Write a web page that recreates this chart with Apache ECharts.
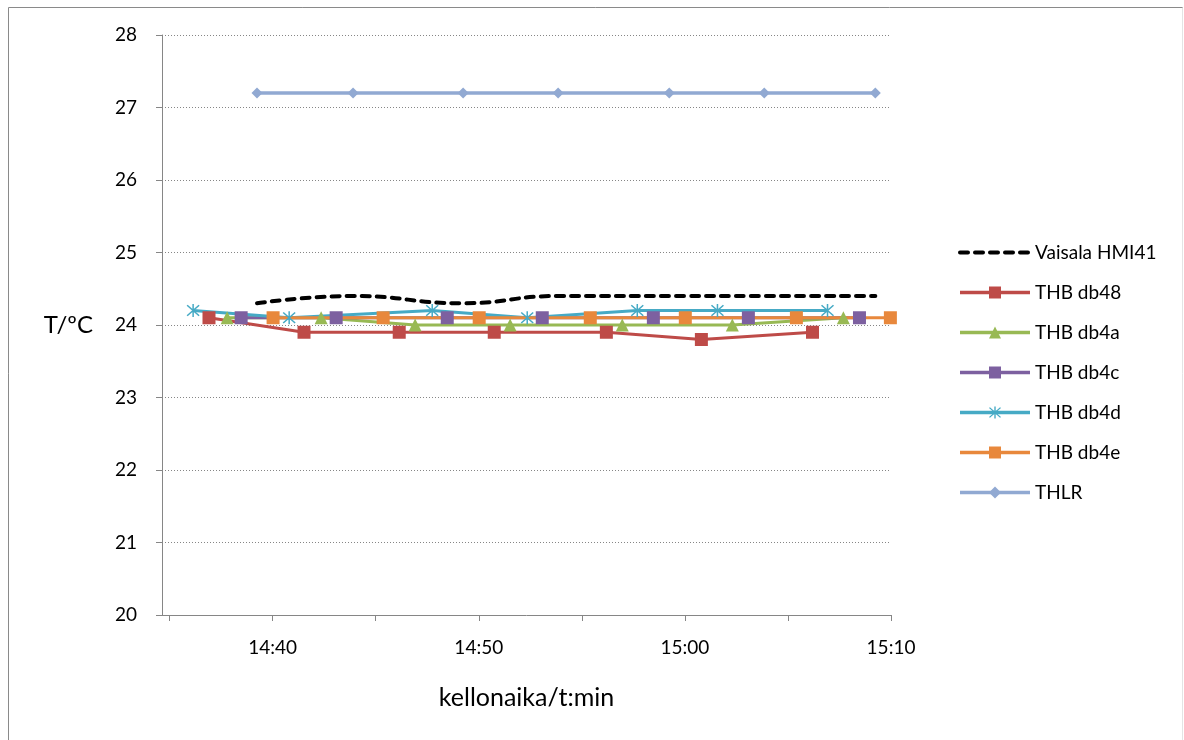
<!DOCTYPE html>
<html>
<head>
<meta charset="utf-8">
<title>T/ºC</title>
<script src="https://cdn.jsdelivr.net/npm/echarts@6/dist/echarts.min.js"></script>
<style>
  html, body { margin: 0; padding: 0; background: #fff; }
  #chart { width: 1184px; height: 740px; }
</style>
</head>
<body>
<div id="chart"></div>
<script>
  // time in minutes after midnight (14:35 = 875), temperature in ºC
  const seriesNames = ['Vaisala HMI41', 'THB db48', 'THB db4a', 'THB db4c', 'THB db4d', 'THB db4e', 'THLR']

  const vaisalaTime = [879.24, 883.90, 889.24, 893.85, 899.24, 903.85, 909.24]
  const vaisalaTemp = [24.3, 24.4, 24.3, 24.4, 24.4, 24.4, 24.4]

  const db48Time = [876.91, 881.52, 886.14, 890.75, 896.19, 900.80, 906.19]
  const db48Temp = [24.1, 23.9, 23.9, 23.9, 23.9, 23.8, 23.9]

  const db4aTime = [877.79, 882.35, 886.91, 891.52, 896.96, 902.30, 907.69]
  const db4aTemp = [24.1, 24.1, 24.0, 24.0, 24.0, 24.0, 24.1]

  const db4cTime = [878.47, 883.08, 888.47, 893.08, 898.47, 903.08, 908.47]
  const db4cTemp = [24.1, 24.1, 24.1, 24.1, 24.1, 24.1, 24.1]

  const db4dTime = [876.14, 880.80, 887.74, 892.35, 897.69, 901.58, 906.92]
  const db4dTemp = [24.2, 24.1, 24.2, 24.1, 24.2, 24.2, 24.2]

  const db4eTime = [880.02, 885.36, 890.02, 895.41, 900.02, 905.41, 909.97]
  const db4eTemp = [24.1, 24.1, 24.1, 24.1, 24.1, 24.1, 24.1]

  const thlrTime = [879.24, 883.90, 889.24, 893.85, 899.24, 903.85, 909.24]
  const thlrTemp = [27.2, 27.2, 27.2, 27.2, 27.2, 27.2, 27.2]

  const xTicks = [875, 880, 885, 890, 895, 900, 905, 910]
  const xLabels = [880, 890, 900, 910]

  const font = 'Lato, "Open Sans", sans-serif'
  const asterisk = 'path://M9 0L11 0L11 20L9 20Z' +
    'M2.7 1.3L18.7 17.3L17.3 18.7L1.3 2.7Z' +
    'M17.3 1.3L18.7 2.7L2.7 18.7L1.3 17.3Z'

  function zip (t, v) {
    let ans = []
    for (let i = 0; i < t.length; i++) {
      ans.push([t[i], v[i]])
    }
    return ans
  }

  function clock (m) {
    let h = Math.floor(m / 60)
    let mm = Math.round(m - h * 60)
    return h + ':' + (mm < 10 ? '0' + mm : mm)
  }

  function line (name, t, v, color, symbol, size, width) {
    return {
      name: name,
      type: 'line',
      data: zip(t, v),
      symbol: symbol,
      symbolSize: size,
      lineStyle: { color: color, width: width },
      itemStyle: { color: color },
      z: 3
    }
  }

  // legend entries; the dashed one has no marker
  let legendData = seriesNames.map((name) => {
    if (name === 'Vaisala HMI41') {
      return { name: name, itemStyle: { opacity: 0 }, lineStyle: { width: 4 } }
    }
    return { name: name }
  })

  let myChart = echarts.init(document.getElementById('chart'))
  let option = {
    animation: false,
    backgroundColor: '#fff',
    textStyle: { fontFamily: font },
    graphic: [
      { type: 'line', shape: { x1: 8.5, y1: 7.5, x2: 1183, y2: 7.5 }, style: { stroke: '#8a8a8a', lineWidth: 1 } },
      { type: 'line', shape: { x1: 8.5, y1: 7.5, x2: 8.5, y2: 740 }, style: { stroke: '#8a8a8a', lineWidth: 1 } },
      { type: 'line', shape: { x1: 1182.5, y1: 7.5, x2: 1182.5, y2: 740 }, style: { stroke: '#e4e4e4', lineWidth: 1 } }
    ],
    grid: {
      left: 162,
      right: 293,
      top: 35,
      bottom: 125
    },
    legend: {
      orient: 'vertical',
      left: 953,
      top: 238,
      itemWidth: 70,
      itemHeight: 15,
      itemGap: 21,
      data: legendData,
      lineStyle: { width: 3.5 },
      textStyle: { fontFamily: font, fontSize: 19, color: '#000' }
    },
    xAxis: {
      type: 'value',
      min: 874.63,
      max: 910,
      name: 'kellonaika/t:min',
      nameLocation: 'middle',
      nameGap: 70,
      nameTextStyle: { fontFamily: font, fontSize: 25, color: '#000' },
      axisLine: { lineStyle: { color: '#868686', width: 1 } },
      axisTick: { show: true, length: 6, customValues: xTicks, lineStyle: { color: '#868686' } },
      axisLabel: {
        customValues: xLabels,
        margin: 23,
        fontSize: 19,
        color: '#000',
        formatter: clock
      },
      splitLine: { show: false }
    },
    yAxis: {
      type: 'value',
      min: 20,
      max: 28,
      interval: 1,
      name: 'T/ºC',
      nameLocation: 'middle',
      nameRotate: 0,
      nameGap: 69,
      nameTextStyle: { fontFamily: font, fontSize: 24, color: '#000' },
      axisLine: { show: true, lineStyle: { color: '#868686', width: 1 } },
      axisTick: { show: true, length: 6, lineStyle: { color: '#868686' } },
      axisLabel: { margin: 25, fontSize: 19, color: '#000' },
      splitLine: { lineStyle: { color: '#868686', type: [1, 2], width: 1 } }
    },
    series: [
      {
        name: 'Vaisala HMI41',
        type: 'line',
        data: zip(vaisalaTime, vaisalaTemp),
        symbol: 'none',
        smooth: 0.5,
        lineStyle: { color: '#000', width: 4, type: [8, 7], cap: 'round' },
        itemStyle: { color: '#000' },
        z: 3
      },
      line('THB db48', db48Time, db48Temp, '#BE4B48', 'rect', 13, 3),
      line('THB db4a', db4aTime, db4aTemp, '#98B954', 'triangle', 13, 3),
      line('THB db4c', db4cTime, db4cTemp, '#7D60A0', 'rect', 13, 3),
      line('THB db4d', db4dTime, db4dTemp, '#46AAC5', asterisk, 13, 3),
      line('THB db4e', db4eTime, db4eTemp, '#E8883C', 'rect', 13, 3),
      line('THLR', thlrTime, thlrTemp, '#91A9D2', 'diamond', 11, 3.5)
    ]
  }
  myChart.setOption(option)
</script>
</body>
</html>
